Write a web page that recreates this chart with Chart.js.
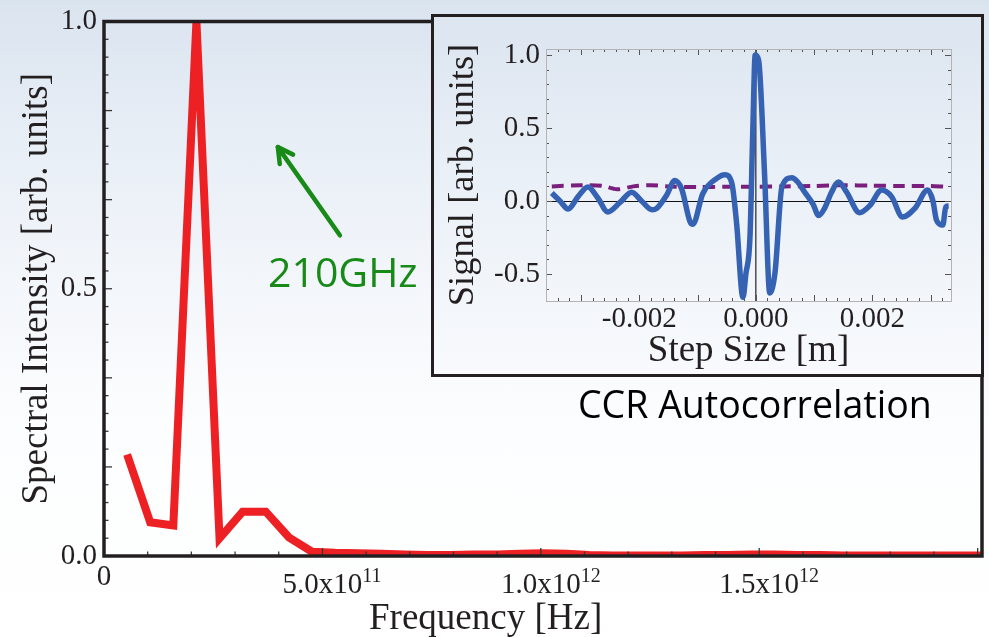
<!DOCTYPE html>
<html><head><meta charset="utf-8">
<script src="https://cdn.jsdelivr.net/npm/chart.js@4.4.1/dist/chart.umd.min.js"></script>
<style>
html,body{margin:0;padding:0;}
body{width:989px;height:637px;overflow:hidden;position:relative;
background:linear-gradient(to bottom,#dae4ef 0px,#e8eef6 140px,#f4f7fb 300px,#fcfdfe 420px,#ffffff 637px);}
#main{position:absolute;left:0;top:0;}
#inset{position:absolute;left:431px;top:14px;width:553px;height:363px;box-sizing:border-box;border:3px solid #231f20;
background:linear-gradient(to bottom,#dce5f0 0%,#eaf0f7 45%,#f8fafd 100%);}
#insetCanvas{position:absolute;left:0;top:0;}
.note{position:absolute;font-family:'Open Sans',sans-serif;white-space:nowrap;line-height:1;}
#ghz{left:268px;top:251px;font-size:41px;color:#178a17;}
#ccr{left:578px;top:385px;font-size:37.5px;color:#000;}
#xtitle{position:absolute;font-family:'Liberation Serif',serif;font-size:37px;line-height:1;color:#231f20;left:369px;top:598px;white-space:nowrap;}
</style></head>
<body>
<canvas id="main" width="989" height="637"></canvas>
<div id="inset"><canvas id="insetCanvas" width="547" height="357"></canvas></div>
<div class="note" id="ghz">210GHz</div>
<div class="note" id="ccr">CCR Autocorrelation</div>
<div id="xtitle">Frequency [Hz]</div>
<script>
// ---- main spectrum ----
const freqHz = [5.29e10, 1.058e11, 1.587e11, 2.116e11, 2.645e11, 3.174e11, 3.703e11, 4.232e11, 4.761e11, 5.29e11,
  5.819e11, 6.348e11, 6.877e11, 7.406e11, 7.935e11, 8.464e11, 8.993e11, 9.522e11, 1.0051e12, 1.058e12,
  1.1109e12, 1.1638e12, 1.2167e12, 1.2696e12, 1.3225e12, 1.3754e12, 1.4283e12, 1.4812e12, 1.5341e12, 1.587e12,
  1.6399e12, 1.6928e12, 1.7457e12, 1.7986e12, 1.8515e12, 1.9044e12, 1.9573e12, 2.0102e12];
const intensity = [0.19, 0.063, 0.057, 1.0, 0.033, 0.083, 0.083, 0.035, 0.008, 0.006,
  0.005, 0.004, 0.003, 0.002, 0.002, 0.003, 0.003, 0.004, 0.005, 0.004,
  0.002, 0.001, 0.001, 0.001, 0.001, 0.002, 0.002, 0.003, 0.003, 0.002,
  0.002, 0.001, 0.001, 0.001, 0.001, 0.001, 0.001, 0.001];
const xTickValues = [0, 5e11, 1e12, 1.5e12];
const xTickMantissa = ['0', '5.0x10', '1.0x10', '1.5x10'];
const xTickExponent = ['', '11', '12', '12'];
const yTickValues = [0, 0.5, 1];
const yTickLabels = ['0.0', '0.5', '1.0'];
const arrowFrom = {x: 5.4e11, y: 0.60};
const arrowTo = {x: 3.98e11, y: 0.765};

// ---- inset autocorrelation ----
const stepM = [-0.00350, -0.00336, -0.00322, -0.00305, -0.00288, -0.00271, -0.00254, -0.00233, -0.00213, -0.00196,
  -0.00178, -0.00170, -0.00153, -0.00139, -0.00127, -0.00113, -0.00108, -0.00091, -0.00065, -0.00053,
  -0.00041, -0.00033, -0.00022, -0.00017, -0.00010, -0.00005, -0.00001, 0.00005, 0.00015, 0.00024,
  0.00033, 0.00045, 0.00062, 0.00072, 0.00084, 0.00098, 0.00108, 0.00118, 0.00130, 0.00142,
  0.00156, 0.00178, 0.00196, 0.00216, 0.00233, 0.00252, 0.00273, 0.00295, 0.00304, 0.00310,
  0.00321, 0.00326, 0.00331];
const signal = [0.055, 0.0, -0.055, 0.03, 0.096, 0.02, -0.075, -0.01, 0.06, 0.0,
  -0.06, -0.05, 0.04, 0.14, 0.08, -0.14, -0.16, 0.05, 0.16, 0.18,
  0.12, -0.15, -0.66, -0.5, -0.25, 0.5, 1.0, 0.96, 0.19, -0.63,
  -0.49, 0.1, 0.16, 0.13, 0.06, -0.02, -0.1, -0.05, 0.06, 0.13,
  0.06, -0.08, -0.03, 0.075, 0.03, -0.11, -0.05, 0.075, 0.0, -0.13,
  -0.165, -0.04, -0.035];
const bgStepM = [-0.00350, -0.00300, -0.00265, -0.00238, -0.00210, -0.00180, -0.00150, -0.00100, -0.00050, 0.00000,
  0.00050, 0.00100, 0.00150, 0.00200, 0.00250, 0.00300, 0.00325];
const bgSignal = [0.100, 0.108, 0.105, 0.080, 0.100, 0.108, 0.100, 0.095, 0.098, 0.098,
  0.100, 0.103, 0.108, 0.105, 0.103, 0.103, 0.098];
const insetXTickValues = [-0.002, 0, 0.002];
const insetXTickLabels = ['-0.002', '0.000', '0.002'];
const insetYTickValues = [-0.5, 0, 0.5, 1.0];
const insetYTickLabels = ['-0.5', '0.0', '0.5', '1.0'];

const INK = '#231f20';
const SERIF = "'Liberation Serif', 'Times New Roman', serif";

function line(ctx, x1, y1, x2, y2) { ctx.beginPath(); ctx.moveTo(x1, y1); ctx.lineTo(x2, y2); ctx.stroke(); }

const mainFrame = {
  id: 'mainFrame',
  afterDatasetsDraw(chart) {
    const {ctx, chartArea: a, scales: {x, y}} = chart;
    ctx.save();
    ctx.strokeStyle = '#3a3637'; ctx.lineWidth = 1.3;
    for (let k = 0; k <= 20; k++) {
      const px = x.getPixelForValue(k * 1e11);
      if (px > a.right - 1) break;
      line(ctx, px, a.bottom, px, a.bottom - (k % 5 === 0 ? 8 : 4.5));
    }
    for (let k = 0; k <= 30; k++) {
      const py = y.getPixelForValue(k / 30);
      line(ctx, a.left, py, a.left + (k % 5 === 0 ? 8 : 4.5), py);
    }
    ctx.strokeStyle = INK; ctx.lineWidth = 3.5;
    ctx.strokeRect(a.left, a.top, a.right - a.left, a.bottom - a.top);
    // x tick labels with superscript exponents
    ctx.fillStyle = INK; ctx.textBaseline = 'alphabetic';
    xTickValues.forEach((v, i) => {
      const px = x.getPixelForValue(v);
      const base = xTickMantissa[i], sup = xTickExponent[i];
      ctx.font = '29px ' + SERIF; ctx.textAlign = 'center';
      const w = ctx.measureText(base).width;
      ctx.fillText(base, px, sup ? a.bottom + 37 : a.bottom + 29);
      if (sup) {
        ctx.font = '20px ' + SERIF; ctx.textAlign = 'left';
        ctx.fillText(sup, px + w / 2, a.bottom + 26);
      }
    });
    // annotation arrow
    const x1 = x.getPixelForValue(arrowFrom.x), y1 = y.getPixelForValue(arrowFrom.y);
    const x2 = x.getPixelForValue(arrowTo.x), y2 = y.getPixelForValue(arrowTo.y);
    ctx.strokeStyle = '#178a17'; ctx.lineWidth = 4.5; ctx.lineCap = 'round'; ctx.lineJoin = 'round';
    line(ctx, x1, y1, x2, y2);
    const ang = Math.atan2(y2 - y1, x2 - x1), hl = 17, spread = 0.5;
    ctx.beginPath();
    ctx.moveTo(x2 - hl * Math.cos(ang - spread), y2 - hl * Math.sin(ang - spread));
    ctx.lineTo(x2, y2);
    ctx.lineTo(x2 - hl * Math.cos(ang + spread), y2 - hl * Math.sin(ang + spread));
    ctx.stroke();
    ctx.restore();
  }
};

new Chart(document.getElementById('main'), {
  type: 'line',
  data: {datasets: [{
    data: freqHz.map((f, i) => ({x: f, y: intensity[i]})),
    borderColor: '#ed2024', borderWidth: 8, pointRadius: 0, tension: 0, fill: false,
    borderJoinStyle: 'miter'
  }]},
  options: {
    responsive: false, animation: false, devicePixelRatio: 1,
    layout: {padding: {top: 16, right: 7, left: 0, bottom: 0}},
    plugins: {legend: {display: false}, tooltip: {enabled: false}},
    scales: {
      x: {
        type: 'linear', min: 0, max: 2.01e12,
        afterFit(s) { s.height = 81; },
        afterBuildTicks(s) { s.ticks = xTickValues.map(v => ({value: v})); },
        ticks: {display: false},
        grid: {display: false, drawTicks: false}, border: {display: false}
      },
      y: {
        type: 'linear', min: 0, max: 1,
        afterFit(s) { s.width = 104; },
        afterBuildTicks(s) { s.ticks = yTickValues.map(v => ({value: v})); },
        ticks: {
          callback: (v) => yTickLabels[yTickValues.indexOf(v)],
          font: {family: SERIF, size: 29, lineHeight: 1}, color: INK, padding: 7, autoSkip: false
        },
        grid: {display: false, drawTicks: false}, border: {display: false},
        title: {display: true, text: 'Spectral Intensity [arb. units]', color: INK,
          font: {family: SERIF, size: 37, lineHeight: 1}, padding: {top: 19, bottom: 0}}
      }
    }
  },
  plugins: [mainFrame]
});

const insetFrame = {
  id: 'insetFrame',
  beforeDatasetsDraw(chart) {
    const {ctx, chartArea: a, scales: {x, y}} = chart;
    ctx.save();
    // zero lines
    ctx.strokeStyle = '#111'; ctx.lineWidth = 1;
    const y0 = Math.round(y.getPixelForValue(0)) + 0.5;
    line(ctx, a.left, y0, a.right, y0);
    ctx.strokeStyle = '#555'; ctx.lineWidth = 1.6;
    const x0 = x.getPixelForValue(0);
    line(ctx, x0, a.top, x0, a.bottom);
    // ticks
    ctx.strokeStyle = '#555'; ctx.lineWidth = 1;
    for (let k = -18; k <= 17; k++) {
      const px = Math.round(x.getPixelForValue(k * 0.0002)) + 0.5;
      if (px < a.left + 1 || px > a.right - 1) continue;
      const len = (k % 5 === 0) ? 6 : 3;
      line(ctx, px, a.bottom, px, a.bottom - len);
      line(ctx, px, a.top, px, a.top + len);
    }
    for (let k = -6; k <= 10; k++) {
      const py = Math.round(y.getPixelForValue(k / 10)) + 0.5;
      if (py < a.top + 1 || py > a.bottom - 1) continue;
      const len = (k % 5 === 0) ? 6 : 3;
      line(ctx, a.left, py, a.left + len, py);
      line(ctx, a.right, py, a.right - len, py);
    }
    ctx.strokeStyle = '#b4b4b4'; ctx.lineWidth = 1;
    ctx.strokeRect(Math.round(a.left) + 0.5, Math.round(a.top) + 0.5, Math.round(a.right - a.left), Math.round(a.bottom - a.top));
    ctx.restore();
  }
};

new Chart(document.getElementById('insetCanvas'), {
  type: 'line',
  data: {datasets: [
    {data: stepM.map((s, i) => ({x: s, y: signal[i]})), borderColor: '#3562b2', borderWidth: 5.5,
      pointRadius: 0, cubicInterpolationMode: 'monotone', fill: false},
    {data: bgStepM.map((s, i) => ({x: s, y: bgSignal[i]})), borderColor: '#7a1f7d', borderWidth: 4,
      borderDash: [12, 7], pointRadius: 0, tension: 0.3, fill: false}
  ]},
  options: {
    responsive: false, animation: false, devicePixelRatio: 1,
    layout: {padding: {top: 32, right: 30, left: 0, bottom: 0}},
    plugins: {legend: {display: false}, tooltip: {enabled: false}},
    scales: {
      x: {
        type: 'linear', min: -0.0036, max: 0.00335,
        afterFit(s) { s.height = 73; },
        afterBuildTicks(s) { s.ticks = insetXTickValues.map(v => ({value: v})); },
        ticks: {
          callback: (v) => insetXTickLabels[insetXTickValues.indexOf(v)],
          font: {family: SERIF, size: 29, lineHeight: 1}, color: INK, padding: 4,
          maxRotation: 0, autoSkip: false
        },
        grid: {display: false, drawTicks: false}, border: {display: false},
        title: {display: true, text: 'Step Size [m]', color: INK,
          font: {family: SERIF, size: 37, lineHeight: 1}, padding: {top: 0, bottom: 4}}
      },
      y: {
        type: 'linear', min: -0.685, max: 1.041,
        afterFit(s) { s.width = 112; },
        afterBuildTicks(s) { s.ticks = insetYTickValues.map(v => ({value: v})); },
        ticks: {
          callback: (v) => insetYTickLabels[insetYTickValues.indexOf(v)],
          font: {family: SERIF, size: 29, lineHeight: 1}, color: INK, padding: 6, autoSkip: false
        },
        grid: {display: false, drawTicks: false}, border: {display: false},
        title: {display: true, text: 'Signal [arb. units]', color: INK,
          font: {family: SERIF, size: 36.5, lineHeight: 1}, padding: {top: 11, bottom: 0}}
      }
    }
  },
  plugins: [insetFrame]
});
</script>
</body></html>
